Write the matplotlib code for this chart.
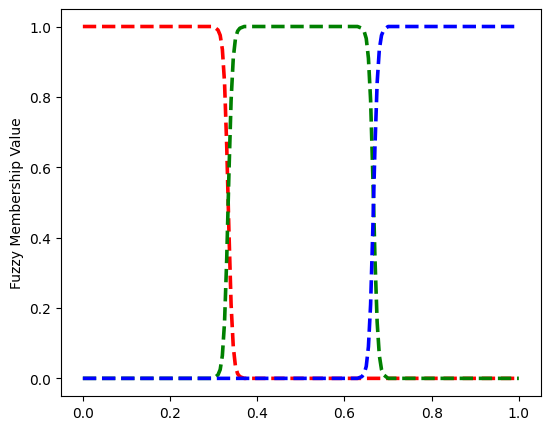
import matplotlib.pyplot as plt
import numpy as np

# values
x = [0.0, 0.30, 0.31, 0.315, 0.32, 0.325, 0.33, 0.335, 0.34, 0.345, 0.35, 0.355, 0.36, 0.37,
     0.63, 0.64, 0.645, 0.65, 0.655, 0.66, 0.665, 0.67, 0.675, 0.68, 0.685, 0.69, 0.70, 1.0]

low = [1.0, 1.0, 0.99, 0.975, 0.935, 0.84, 0.66, 0.42, 0.21, 0.09, 0.034, 0.013, 0.005, 0.0,
       0, 0, 0, 0, 0, 0, 0, 0, 0, 0, 0, 0, 0, 0]
medium = [0.0, 0.0, 0.01, 0.025, 0.065, 0.16, 0.34, 0.58, 0.79, 0.91, 0.966, 0.987, 0.995, 1.0,
          1.0, 0.995, 0.987, 0.966, 0.91, 0.79, 0.58, 0.34, 0.16, 0.065, 0.025, 0.01, 0.0, 0.0]
high = [0, 0, 0, 0, 0, 0, 0, 0, 0, 0, 0, 0, 0, 0,
        0.0, 0.005, 0.013, 0.034, 0.09, 0.21, 0.42, 0.66, 0.84, 0.935, 0.975, 0.99, 1.0, 1.0]

fig = plt.figure(figsize=(5.5, 4.31), dpi=100)
ax = fig.add_axes([0.111, 0.079, 0.872, 0.898])

ax.plot(x, low, color="red", linestyle="--", linewidth=2.6)
ax.plot(x, medium, color="green", linestyle="--", linewidth=2.6)
ax.plot(x, high, color="blue", linestyle="--", linewidth=2.6)

ax.set_ylabel("Fuzzy Membership Value")
ax.set_xticks(np.arange(0, 1.01, 0.2))
ax.set_yticks(np.arange(0, 1.01, 0.2))

fig.savefig("out.png", dpi=100)
